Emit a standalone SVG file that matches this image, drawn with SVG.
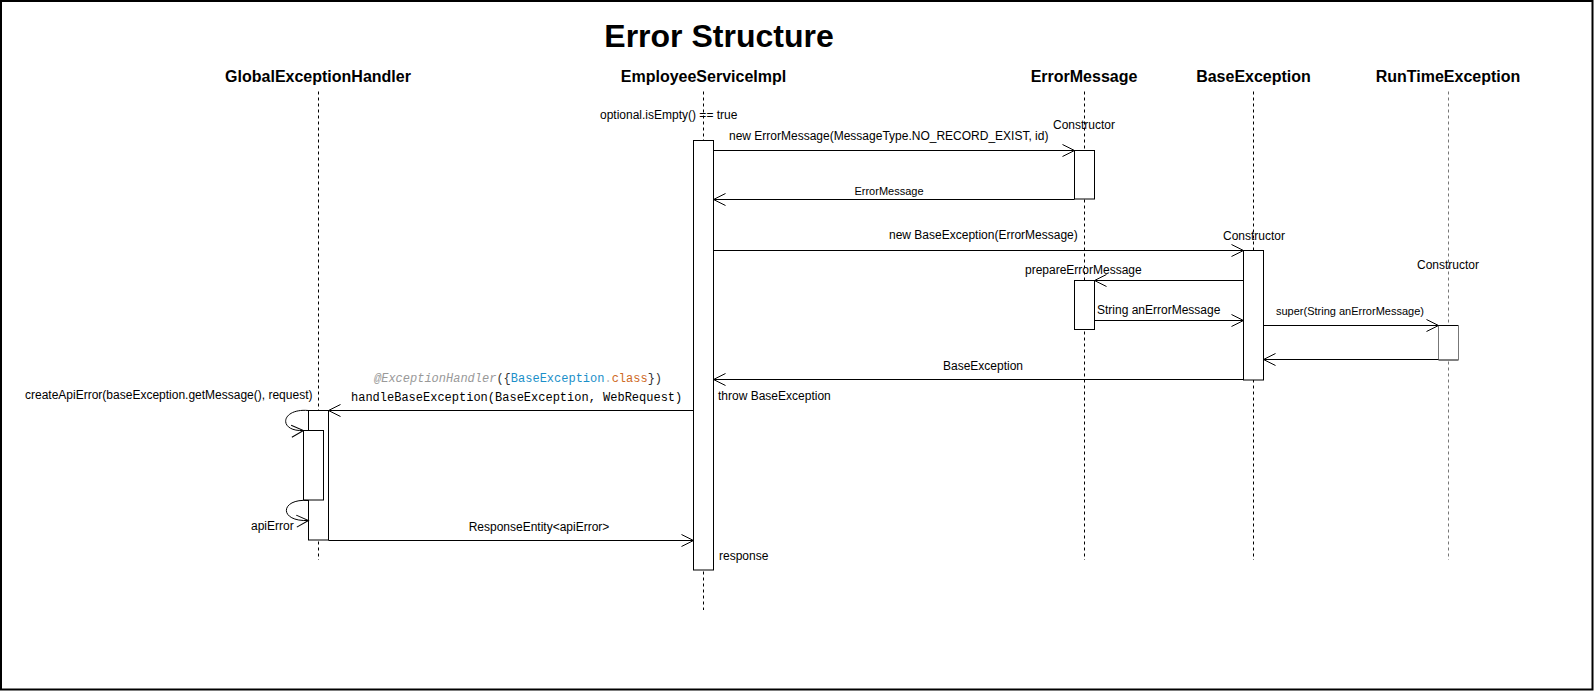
<svg xmlns="http://www.w3.org/2000/svg" width="1594" height="691" viewBox="0 0 1594 691">
<style>
.hdr{font-family:"Liberation Sans",Arial,sans-serif;font-size:16px;font-weight:bold;fill:#000;text-anchor:middle}
.lbl{font-family:"Liberation Sans",Arial,sans-serif;font-size:12px;fill:#000}
.sm{font-size:11px}
.mid{text-anchor:middle}
.life{stroke:#000;stroke-width:1;stroke-dasharray:3 3;fill:none}
.act{fill:#fff;stroke:#000;stroke-width:1}
.msg{stroke:#000;stroke-width:1;fill:none;marker-end:url(#open)}
.mono{font-family:"Liberation Mono","DejaVu Sans Mono",monospace;font-size:12px;fill:#000}
</style>
<defs>
<marker id="open" markerWidth="14" markerHeight="14" refX="12" refY="7" orient="auto" markerUnits="userSpaceOnUse" overflow="visible">
<path d="M0,1 L12,7 L0,13" fill="none" stroke="#000" stroke-width="1"/>
</marker>
</defs>
<rect x="0" y="0" width="1594" height="691" fill="#fff"/>
<rect x="1" y="1" width="1591.5" height="688.5" fill="none" stroke="#000" stroke-width="2"/>
<text x="719" y="47" font-family="Liberation Sans,Arial,sans-serif" font-size="32" font-weight="bold" text-anchor="middle">Error Structure</text>

<g id="GlobalExceptionHandler">
<text class="hdr" x="318" y="82">GlobalExceptionHandler</text>
<line class="life" x1="318.5" y1="91.5" x2="318.5" y2="560"/>
<rect class="act" x="308.5" y="410.5" width="20" height="129.5"/>
<rect class="act" x="303.5" y="430.5" width="20" height="69.5"/>
</g>

<g id="EmployeeServiceImpl">
<text class="hdr" x="703.5" y="82">EmployeeServiceImpl</text>
<line class="life" x1="703.5" y1="91.5" x2="703.5" y2="610"/>
<rect class="act" x="693.5" y="140.5" width="20" height="429.5"/>
<text class="lbl" x="600" y="119">optional.isEmpty() == true</text>
</g>

<g id="ErrorMessage">
<text class="hdr" x="1084" y="82">ErrorMessage</text>
<line class="life" x1="1084.5" y1="91.5" x2="1084.5" y2="560"/>
<rect class="act" x="1074.5" y="150.5" width="20" height="48.5"/>
<rect class="act" x="1074.5" y="280.5" width="20" height="49"/>
<text class="lbl" x="1053" y="129">Constructor</text>
</g>

<g id="BaseException">
<text class="hdr" x="1253.5" y="82">BaseException</text>
<line class="life" x1="1253.5" y1="91.5" x2="1253.5" y2="560"/>
<rect class="act" x="1243.5" y="250.5" width="20" height="129.5"/>
<text class="lbl" x="1223" y="240">Constructor</text>
</g>

<g id="RunTimeException">
<text class="hdr" x="1448" y="82">RunTimeException</text>
<line class="life" x1="1448.5" y1="91.5" x2="1448.5" y2="560" style="stroke:#777"/>
<rect x="1438.5" y="325.5" width="20" height="34.5" fill="#fff" stroke="none"/>
<line x1="1438.5" y1="325.5" x2="1458.5" y2="325.5" stroke="#000"/>
<line x1="1438.5" y1="360" x2="1458.5" y2="360" stroke="#000"/>
<line x1="1438.5" y1="325.5" x2="1438.5" y2="360" stroke="#777"/>
<line x1="1458.5" y1="325.5" x2="1458.5" y2="360" stroke="#777"/>
<text class="lbl" x="1417" y="269">Constructor</text>
</g>

<g id="connectors">
<line class="msg" x1="713.5" y1="150.5" x2="1074.5" y2="150.5"/>
<text class="lbl" x="729" y="140">new ErrorMessage(MessageType.NO_RECORD_EXIST, id)</text>

<line class="msg" x1="1074.5" y1="199.5" x2="713.5" y2="199.5"/>
<text class="lbl sm mid" x="889" y="195">ErrorMessage</text>

<line class="msg" x1="713.5" y1="250.5" x2="1243.5" y2="250.5"/>
<text class="lbl" x="889" y="239">new BaseException(ErrorMessage)</text>

<line class="msg" x1="1243.5" y1="280.5" x2="1094.5" y2="280.5"/>
<text class="lbl" x="1025" y="274">prepareErrorMessage</text>

<line class="msg" x1="1094.5" y1="320.5" x2="1243.5" y2="320.5"/>
<text class="lbl" x="1097" y="314">String anErrorMessage</text>

<line class="msg" x1="1263.5" y1="325.5" x2="1438.5" y2="325.5"/>
<text class="lbl sm" x="1276" y="315">super(String anErrorMessage)</text>

<line class="msg" x1="1438.5" y1="359.5" x2="1263.5" y2="359.5"/>

<line class="msg" x1="1243.5" y1="379.5" x2="713.5" y2="379.5"/>
<text class="lbl mid" x="983" y="370">BaseException</text>
<text class="lbl" x="718" y="400">throw BaseException</text>

<line class="msg" x1="693.5" y1="410.5" x2="328.5" y2="410.5"/>
<text class="mono" x="374" y="382"><tspan fill="#999" font-style="italic">@ExceptionHandler</tspan><tspan fill="#333">({</tspan><tspan fill="#1a8fc9">BaseException</tspan><tspan fill="#bbb">.</tspan><tspan fill="#cf6a1f">class</tspan><tspan fill="#333">})</tspan></text>
<text class="mono" x="351" y="401">handleBaseException(BaseException, WebRequest)</text>

<path class="msg" d="M308.5,410.5 C280,408 278,432 303.5,430.5"/>
<text class="lbl" x="25" y="399">createApiError(baseException.getMessage(), request)</text>

<path class="msg" d="M308.5,500.5 C280,498 278,522 308.5,520.5"/>
<text class="lbl" x="251" y="530">apiError</text>

<line class="msg" x1="328.5" y1="540.5" x2="693.5" y2="540.5"/>
<text class="lbl mid" x="539" y="531">ResponseEntity&lt;apiError&gt;</text>
<text class="lbl" x="719" y="560">response</text>
</g>
</svg>
